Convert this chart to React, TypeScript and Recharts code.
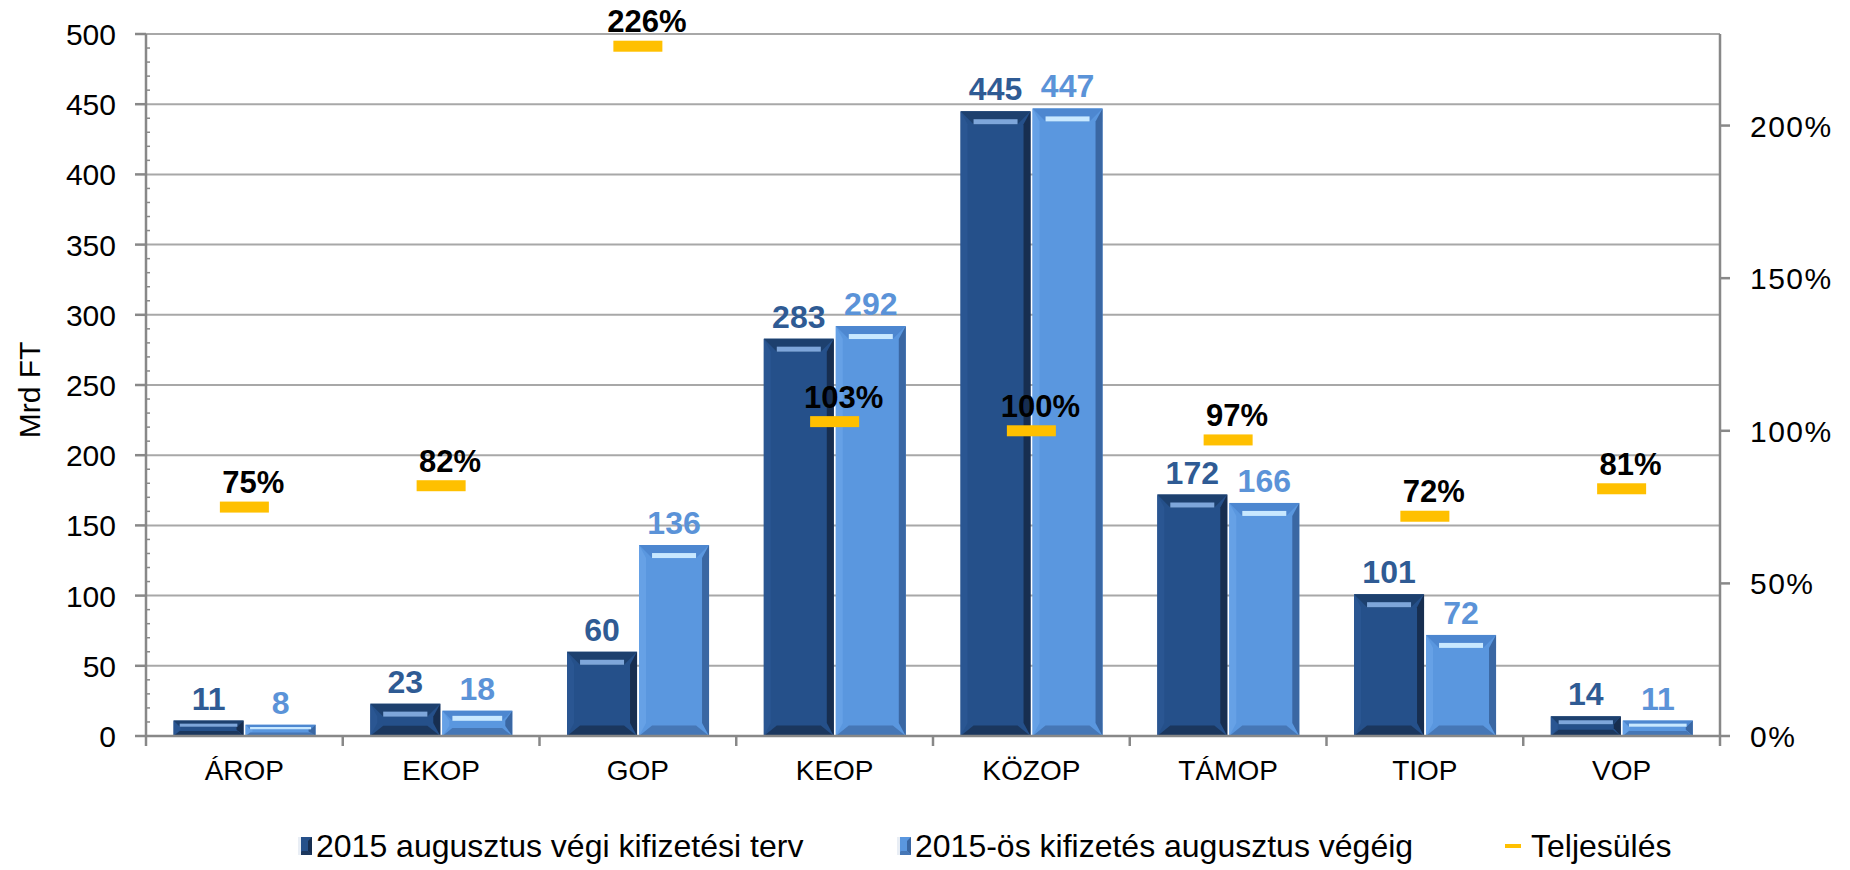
import {
  Bar,
  CartesianGrid,
  ComposedChart,
  LabelList,
  Legend,
  Line,
  XAxis,
  YAxis,
} from "recharts";

const FONT = '"Liberation Sans", Arial, Helvetica, sans-serif';
const AXIS_GRAY = "#888888";
const GRID_GRAY = "#a8a8a8";
const MARKER_YELLOW = "#FFC000";

const categories = ["ÁROP", "EKOP", "GOP", "KEOP", "KÖZOP", "TÁMOP", "TIOP", "VOP"];
const plannedValues = [11, 23, 60, 283, 445, 172, 101, 14];
const paidValues = [8, 18, 136, 292, 447, 166, 72, 11];
const completionPct = [75, 82, 226, 103, 100, 97, 72, 81];

const leftTicks = [0, 50, 100, 150, 200, 250, 300, 350, 400, 450, 500];
const rightTicks = [0, 50, 100, 150, 200];
// every 10 units gets a small tick, the labelled ones come from leftTicks
const minorTicks = Array.from({ length: 51 }, (_, i) => i * 10);

const chartData = categories.map((name, i) => ({
  name,
  planned: plannedValues[i],
  paid: paidValues[i],
  completion: completionPct[i],
}));

const BAR_LOOK = {
  planned: {
    base: "#25508a",
    left: "#2a5692",
    right: "#172e50",
    top: "#1d406e",
    bottom: "#1b375e",
    shine: "#7ea6da",
    label: "#2f5b94",
  },
  paid: {
    base: "#5a97df",
    left: "#66a1e6",
    right: "#3a67a3",
    top: "#4d87d0",
    bottom: "#4677b6",
    shine: "#c8e8ff",
    label: "#5b93d8",
  },
};

type Look = (typeof BAR_LOOK)["planned"];

function bevelBar(look: Look) {
  return (props: any) => {
    const { x, y, width, height } = props;
    if (!height || height <= 0) return <g />;
    const b = Math.min(13, height / 2.5);
    const side = Math.min(7, width / 8);
    const shineH = Math.min(5, b / 2);
    return (
      <g>
        <rect x={x} y={y} width={width} height={height} fill={look.base} />
        <polygon
          points={`${x},${y} ${x + side},${y + b} ${x + side},${y + height - b} ${x},${y + height}`}
          fill={look.left}
        />
        <polygon
          points={`${x + width},${y} ${x + width - side},${y + b} ${x + width - side},${y + height - b} ${x + width},${y + height}`}
          fill={look.right}
        />
        <polygon
          points={`${x},${y} ${x + width},${y} ${x + width - b},${y + b} ${x + b},${y + b}`}
          fill={look.top}
        />
        <polygon
          points={`${x},${y + height} ${x + width},${y + height} ${x + width - b},${y + height - b * 0.8} ${x + b},${y + height - b * 0.8}`}
          fill={look.bottom}
        />
        <rect
          x={x + b}
          y={y + b - shineH}
          width={Math.max(0, width - 2 * b)}
          height={shineH}
          fill={look.shine}
        />
      </g>
    );
  };
}

function CategoryTick(props: any) {
  const { x, y, payload, index, width, visibleTicksCount } = props;
  const count = visibleTicksCount || categories.length;
  const band = (width || 1574) / count;
  const left = x - band / 2;
  const right = x + band / 2;
  return (
    <g>
      <line x1={left} y1={y} x2={left} y2={y + 10} stroke={AXIS_GRAY} strokeWidth={2.5} />
      {index === count - 1 && (
        <line x1={right} y1={y} x2={right} y2={y + 10} stroke={AXIS_GRAY} strokeWidth={2.5} />
      )}
      <text x={x} y={y + 44} textAnchor="middle" fontSize={28} fill="#000" fontFamily={FONT}>
        {payload.value}
      </text>
    </g>
  );
}

function LeftTick(props: any) {
  const { x, y, payload } = props;
  const v = payload.value as number;
  if (leftTicks.includes(v)) {
    return (
      <g>
        <line x1={x - 11} y1={y} x2={x} y2={y} stroke={AXIS_GRAY} strokeWidth={2.5} />
        <text x={x - 30} y={y + 11} textAnchor="end" fontSize={30} fill="#000" fontFamily={FONT}>
          {v}
        </text>
      </g>
    );
  }
  return <line x1={x} y1={y} x2={x + 4} y2={y} stroke={AXIS_GRAY} strokeWidth={1.5} />;
}

function RightTick(props: any) {
  const { x, y, payload } = props;
  return (
    <text
      x={x + 20}
      y={y + 11}
      textAnchor="start"
      fontSize={30}
      letterSpacing={1.5}
      fill="#000"
      fontFamily={FONT}
    >
      {`${payload.value}%`}
    </text>
  );
}

function CompletionMarker(props: any) {
  const { cx, cy, index } = props;
  if (cx == null || cy == null) return <g key={`m-${index}`} />;
  return <rect key={`m-${index}`} x={cx - 24.5} y={cy - 5.5} width={49} height={11} fill={MARKER_YELLOW} />;
}

function CompletionLabel(props: any) {
  const { x, y, value } = props;
  return (
    <text x={x + 9} y={y - 14} textAnchor="middle" fontSize={31} fontWeight="bold" fill="#000" fontFamily={FONT}>
      {`${value}%`}
    </text>
  );
}

function AxisTitle(props: any) {
  const { viewBox } = props;
  const cy = viewBox ? viewBox.y + viewBox.height / 2 + 5 : 390;
  return (
    <text
      transform={`translate(40, ${cy}) rotate(-90)`}
      textAnchor="middle"
      fontSize={30}
      fill="#000"
      fontFamily={FONT}
    >
      Mrd FT
    </text>
  );
}

function LegendIcon({ kind }: { kind: string }) {
  if (kind === "completion") {
    return (
      <svg width={16} height={20} style={{ marginRight: 10 }}>
        <rect x={0} y={8} width={16} height={4} fill={MARKER_YELLOW} />
      </svg>
    );
  }
  const look = kind === "planned" ? BAR_LOOK.planned : BAR_LOOK.paid;
  return (
    <svg width={14} height={18} style={{ marginRight: 4 }}>
      <rect x={0} y={0} width={14} height={18} fill={look.base} />
      <polygon points="14,0 10,4 10,14 14,18" fill={look.right} />
      <polygon points="0,18 14,18 10,14 4,14" fill={look.bottom} />
      <rect x={0} y={0} width={3} height={18} fill="#e9eef5" />
    </svg>
  );
}

const legendWidths: Record<string, number> = { planned: 599, paid: 608, completion: 220 };

function renderLegend(props: any) {
  const { payload } = props;
  return (
    <div
      style={{
        display: "flex",
        alignItems: "center",
        paddingLeft: 298,
        height: 40,
        fontFamily: FONT,
        fontSize: 32,
        color: "#000",
      }}
    >
      {(payload || []).map((item: any) => (
        <div
          key={item.dataKey}
          style={{ display: "flex", alignItems: "center", width: legendWidths[item.dataKey], whiteSpace: "nowrap" }}
        >
          <LegendIcon kind={item.dataKey} />
          <span>{item.value}</span>
        </div>
      ))}
    </div>
  );
}

export default function App() {
  return (
    <div style={{ position: "absolute", left: 0, top: 0, background: "#fff" }}>
      <ComposedChart
        width={1850}
        height={870}
        data={chartData}
        margin={{ top: 34, right: 0, bottom: 4, left: 0 }}
        barCategoryGap="14%"
        barGap={2}
        style={{ fontFamily: FONT }}
      >
        <CartesianGrid
          yAxisId="left"
          vertical={false}
          horizontalValues={leftTicks}
          stroke={GRID_GRAY}
          strokeWidth={2}
        />
        <XAxis
          dataKey="name"
          height={90}
          interval={0}
          tickSize={0}
          tickMargin={0}
          tickLine={false}
          axisLine={{ stroke: AXIS_GRAY, strokeWidth: 2.5 }}
          tick={<CategoryTick />}
        />
        <YAxis
          yAxisId="left"
          width={146}
          domain={[0, 500]}
          ticks={minorTicks}
          interval={0}
          tickSize={0}
          tickMargin={0}
          tickLine={false}
          axisLine={{ stroke: AXIS_GRAY, strokeWidth: 2.5 }}
          tick={<LeftTick />}
          label={<AxisTitle />}
        />
        <YAxis
          yAxisId="pct"
          orientation="right"
          width={130}
          domain={[0, 230]}
          ticks={rightTicks}
          interval={0}
          allowDataOverflow
          tickSize={10}
          tickMargin={0}
          tickLine={{ stroke: AXIS_GRAY, strokeWidth: 2.5 }}
          axisLine={{ stroke: AXIS_GRAY, strokeWidth: 2.5 }}
          tick={<RightTick />}
        />
        <Legend verticalAlign="bottom" height={40} content={renderLegend} />
        <Bar
          yAxisId="left"
          dataKey="planned"
          name="2015 augusztus végi kifizetési terv"
          fill={BAR_LOOK.planned.base}
          shape={bevelBar(BAR_LOOK.planned)}
          isAnimationActive={false}
        >
          <LabelList
            dataKey="planned"
            position="top"
            offset={11}
            fill={BAR_LOOK.planned.label}
            fontSize={32}
            fontWeight="bold"
            fontFamily={FONT}
          />
        </Bar>
        <Bar
          yAxisId="left"
          dataKey="paid"
          name="2015-ös kifizetés augusztus végéig"
          fill={BAR_LOOK.paid.base}
          shape={bevelBar(BAR_LOOK.paid)}
          isAnimationActive={false}
        >
          <LabelList
            dataKey="paid"
            position="top"
            offset={11}
            fill={BAR_LOOK.paid.label}
            fontSize={32}
            fontWeight="bold"
            fontFamily={FONT}
          />
        </Bar>
        <Line
          yAxisId="pct"
          dataKey="completion"
          name="Teljesülés"
          stroke="none"
          dot={CompletionMarker}
          activeDot={false}
          isAnimationActive={false}
        >
          <LabelList dataKey="completion" content={CompletionLabel} />
        </Line>
      </ComposedChart>
    </div>
  );
}
